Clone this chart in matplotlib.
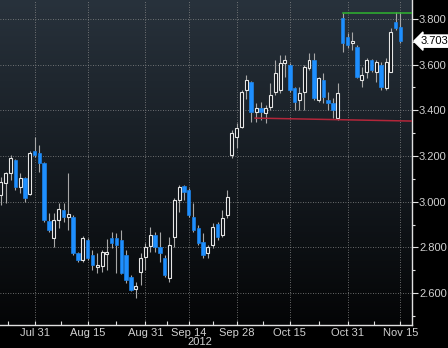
import numpy as np
import pandas as pd
import matplotlib
matplotlib.use("Agg")
import matplotlib.pyplot as plt
from matplotlib.colors import LinearSegmentedColormap

plt.rcParams["font.family"] = ["Liberation Sans Narrow", "Liberation Sans", "DejaVu Sans"]

# daily candles, Jul 20 - Nov 15 2012 (trading days)
opens = [3.029, 3.082, 3.125, 3.182, 3.064, 3.104, 3.033, 3.222, 3.213, 3.169,
         2.915, 2.841, 2.920, 2.963, 2.933, 2.933, 2.775, 2.744, 2.832, 2.766,
         2.714, 2.718, 2.771, 2.841, 2.841, 2.832, 2.766, 2.670, 2.617, 2.692,
         2.758, 2.806, 2.854, 2.801, 2.753, 2.666, 2.845, 3.007, 3.069, 3.051,
         2.933, 2.885, 2.823, 2.775, 2.810, 2.902, 2.854, 2.941, 3.204, 3.283,
         3.327, 3.489, 3.524, 3.393, 3.410, 3.388, 3.415, 3.480, 3.489, 3.607,
         3.599, 3.498, 3.445, 3.480, 3.585, 3.620, 3.445, 3.533, 3.445, 3.432,
         3.366, 3.804, 3.721, 3.695, 3.677, 3.533, 3.568, 3.620, 3.568, 3.599,
         3.498, 3.568, 3.787, 3.765]
highs = [3.108, 3.130, 3.204, 3.185, 3.125, 3.108, 3.222, 3.283, 3.248, 3.175,
         2.950, 2.950, 2.994, 2.994, 3.125, 2.941, 2.779, 2.850, 2.841, 2.788,
         2.775, 2.788, 2.836, 2.867, 2.863, 2.876, 2.788, 2.679, 2.648, 2.775,
         2.819, 2.889, 2.867, 2.867, 2.766, 2.845, 3.016, 3.073, 3.073, 3.060,
         2.994, 2.898, 2.863, 2.810, 2.906, 2.911, 2.963, 3.051, 3.314, 3.344,
         3.489, 3.555, 3.530, 3.432, 3.436, 3.423, 3.520, 3.620, 3.642, 3.642,
         3.607, 3.502, 3.502, 3.599, 3.651, 3.651, 3.546, 3.563, 3.480, 3.454,
         3.520, 3.826, 3.739, 3.743, 3.686, 3.590, 3.629, 3.624, 3.620, 3.612,
         3.629, 3.761, 3.831, 3.831]
lows = [2.985, 2.994, 3.095, 3.051, 3.038, 2.998, 3.029, 3.196, 3.130, 2.911,
        2.867, 2.801, 2.885, 2.911, 2.876, 2.766, 2.736, 2.736, 2.744, 2.701,
        2.687, 2.692, 2.701, 2.797, 2.687, 2.683, 2.644, 2.609, 2.578, 2.635,
        2.701, 2.779, 2.779, 2.736, 2.670, 2.648, 2.801, 2.955, 3.007, 2.933,
        2.867, 2.810, 2.753, 2.753, 2.797, 2.832, 2.845, 2.928, 3.191, 3.235,
        3.323, 3.450, 3.349, 3.349, 3.358, 3.344, 3.401, 3.467, 3.476, 3.545,
        3.480, 3.401, 3.401, 3.401, 3.577, 3.445, 3.436, 3.432, 3.401, 3.366,
        3.358, 3.655, 3.673, 3.664, 3.542, 3.502, 3.542, 3.568, 3.524, 3.489,
        3.489, 3.568, 3.752, 3.695]
closes = [3.086, 3.125, 3.191, 3.064, 3.104, 3.016, 3.213, 3.204, 3.169, 2.920,
          2.876, 2.920, 2.968, 2.933, 2.946, 2.775, 2.744, 2.841, 2.753, 2.723,
          2.723, 2.779, 2.779, 2.819, 2.810, 2.687, 2.657, 2.613, 2.631, 2.753,
          2.801, 2.854, 2.801, 2.775, 2.679, 2.810, 3.007, 3.064, 3.042, 2.941,
          2.876, 2.819, 2.766, 2.801, 2.889, 2.845, 2.928, 3.020, 3.301, 3.323,
          3.480, 3.533, 3.393, 3.410, 3.393, 3.410, 3.467, 3.563, 3.607, 3.620,
          3.489, 3.436, 3.476, 3.590, 3.620, 3.454, 3.542, 3.458, 3.432, 3.401,
          3.476, 3.695, 3.686, 3.704, 3.546, 3.555, 3.620, 3.577, 3.612, 3.502,
          3.612, 3.743, 3.761, 3.703]

tick_dates = ["2012-07-31", "2012-08-15", "2012-08-31", "2012-09-14",
              "2012-09-28", "2012-10-15", "2012-10-31", "2012-11-15"]
tick_labels = ["Jul 31", "Aug 15", "Aug 31", "Sep 14", "Sep 28", "Oct 15", "Oct 31", "Nov 15"]
last_price = 3.703
resist_level = 3.828
support_start, support_end = 3.366, 3.353

days = pd.bdate_range("2012-07-20", "2012-11-15")
days = days[days != pd.Timestamp("2012-09-03")]
idx = np.arange(len(days))
tick_pos = [days.get_loc(pd.Timestamp(d)) for d in tick_dates]

o = np.array(opens); h = np.array(highs); l = np.array(lows); c = np.array(closes)
up = c >= o

fig = plt.figure(figsize=(4.48, 3.48), dpi=100, facecolor="black")
ax = fig.add_axes([0.0, 0.066, 412 / 448, 0.934])
ax.set_xlim(-0.2, 85.4)
ax.set_ylim(2.46, 3.883)

# dark gradient background, slate at the top fading to black
grad = np.linspace(0, 1, 256).reshape(-1, 1)
cmap = LinearSegmentedColormap.from_list("bg", ["#28323c", "#161c22", "#040506"])
ax.imshow(grad, cmap=cmap, aspect="auto", extent=[0, 1, 0, 1],
          transform=ax.transAxes, zorder=0)

# grid
ax.set_yticks(np.arange(2.6, 3.81, 0.2))
ax.set_yticks(np.arange(2.5, 3.81, 0.2), minor=True)
ax.set_xticks(tick_pos)
ax.set_xticklabels(tick_labels)
mids = [(a + b) / 2 for a, b in zip(tick_pos[:-1], tick_pos[1:])]
ax.set_xticks([tick_pos[0] - 5.5] + mids, minor=True)
ax.grid(True, which="major", color="#8a8a8a", linestyle=(0, (1, 2)), linewidth=0.6, zorder=1)

# candles
body_lo = np.minimum(o, c)
body_hi = np.maximum(o, c)
ax.vlines(idx, body_hi, h, color="#a8a8a8", linewidth=0.8, zorder=2)
ax.vlines(idx, l, body_lo, color="#a8a8a8", linewidth=0.8, zorder=2)
hgt = np.maximum(body_hi - body_lo, 0.006)
ax.bar(idx[~up], hgt[~up], bottom=body_lo[~up], width=0.74,
       color="#1e8fff", edgecolor="#1e8fff", linewidth=0.4, zorder=3)
ax.bar(idx[up], hgt[up], bottom=body_lo[up], width=0.62,
       color="#0d1116", edgecolor="#e6e6e6", linewidth=0.8, zorder=3)

# trend lines
ax.plot([71, 85.4], [resist_level, resist_level], color="#2fb52f", linewidth=1.1, zorder=4)
ax.plot([52.8, 85.4], [support_start, support_end], color="#b3263a", linewidth=1.1, zorder=4)

# axes styling
for s in ["top", "left"]:
    ax.spines[s].set_visible(False)
for s in ["right", "bottom"]:
    ax.spines[s].set_color("#e0e0e0")
    ax.spines[s].set_linewidth(1.0)
ax.yaxis.tick_right()
ax.yaxis.set_major_formatter(plt.FuncFormatter(lambda v, p: f"{v:.3f}"))
ax.tick_params(axis="y", which="major", colors="#e0e0e0", labelcolor="#d0d0d0",
               labelsize=8, length=4, width=0.8, pad=1)
ax.tick_params(axis="y", which="minor", colors="#e0e0e0", length=2.5, width=0.8)
ax.tick_params(axis="x", which="major", colors="#e0e0e0", labelcolor="#d0d0d0",
               labelsize=8, length=3, width=0.8, pad=2, direction="in")
ax.tick_params(axis="x", which="minor", colors="#e0e0e0", length=3, width=0.8, direction="in")
ax.tick_params(axis="y", which="both", left=False)

ax.text(41.4, -0.053, "2012", transform=ax.get_xaxis_transform(), ha="center",
        va="center", color="#d0d0d0", fontsize=8)

# last price tag
ax.text(1.02, last_price, f"{last_price:.3f}", transform=ax.get_yaxis_transform(),
        ha="left", va="center", fontsize=8, color="black",
        bbox=dict(boxstyle="larrow,pad=0.1", fc="white", ec="white"))

fig.savefig("out.png", dpi=100, facecolor="black")
